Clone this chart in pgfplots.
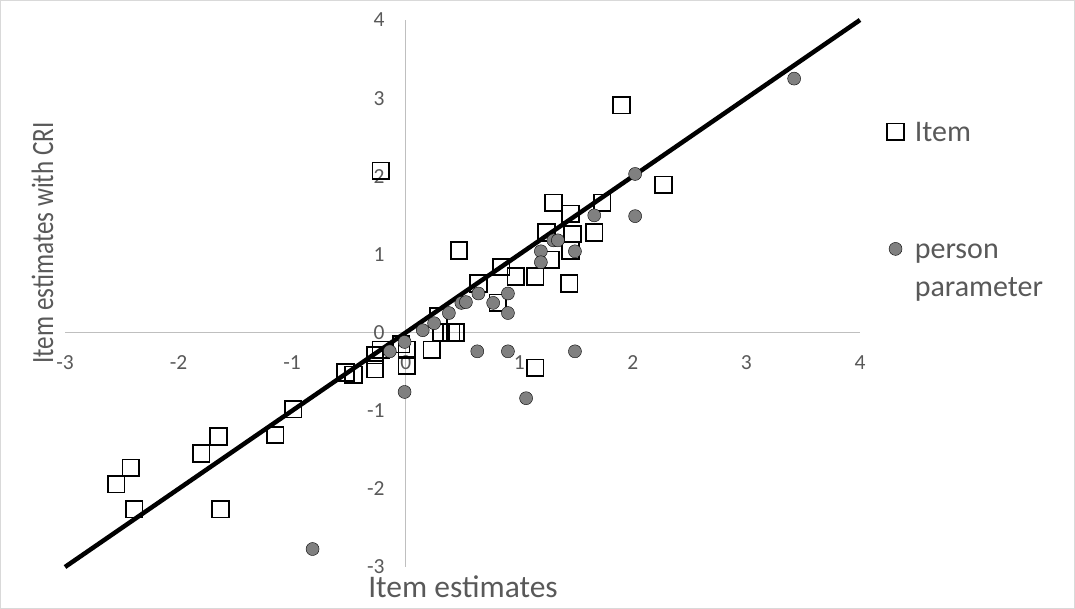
\documentclass[border=0pt]{standalone}
\usepackage{pgfplots}
\pgfplotsset{compat=1.18}
\usepackage{fontspec}
\setmainfont{Carlito}
\definecolor{tickgray}{HTML}{595959}
\definecolor{axisgray}{HTML}{BFBFBF}
\definecolor{bordergray}{HTML}{D9D9D9}
\definecolor{dotgray}{HTML}{808080}
\begin{document}
\begin{tikzpicture}
\path[use as bounding box] (0,0) rectangle (1075bp,609bp);
\begin{axis}[
  at={(65bp,42bp)}, anchor=south west,
  scale only axis, width=795bp, height=547bp,
  xmin=-3, xmax=4, ymin=-3, ymax=4,
  axis lines=middle,
  hide obscured x ticks=false, hide obscured y ticks=false,
  axis line style={-, draw=axisgray, line width=1.3bp},
  xtick={-3,-2,-1,0,1,2,3,4}, ytick={-3,-2,-1,0,1,2,3,4},
  xticklabels={-3,-2,-1,0,1,2,3,4},
  yticklabels={-3,-2,-1,0,1,2,3,4},
  major tick length=0pt,
  tick style={draw=none},
  ticklabel style={font=\fontsize{21.5bp}{21.5bp}\selectfont, text=tickgray, inner sep=0pt},
  xticklabel style={anchor=north, yshift=-23bp},
  yticklabel style={anchor=east, xshift=-21bp},
  clip=false,
  legend style={draw=none, fill=none, inner sep=0pt,
    at={(axis description cs:1.034,0.8165)}, anchor=north west,
    font=\fontsize{30bp}{38bp}\selectfont, text=tickgray,
    row sep=85bp, column sep=9bp, cells={anchor=base west}},
  legend image code/.code={\draw[mark repeat=2,mark phase=2,#1] plot coordinates {(0bp,10bp)(10bp,10bp)(20bp,10bp)};},
]
\addplot[only marks, mark=square, mark size=8.3bp, mark options={draw=black, line width=1.8bp, fill=none}] coordinates {
(-0.22,2.07) (0.47,1.05) (1.30,1.66) (1.45,1.52) (1.73,1.66)
(1.24,1.28) (1.47,1.26) (1.66,1.28) (1.45,1.05) (1.28,0.93)
(0.84,0.84) (0.97,0.72) (1.14,0.72) (0.64,0.63) (1.44,0.63)
(0.81,0.38) (0.29,0.21) (0.31,0.00) (0.40,0.00) (0.44,0.00)
(0.23,-0.22) (1.14,-0.45) (0.01,-0.42) (0.01,-0.22) (-0.04,-0.15)
(-0.22,-0.22) (-0.27,-0.29) (-0.27,-0.47) (-0.53,-0.51) (-0.46,-0.54)
(-0.99,-0.98) (-1.15,-1.31) (-1.65,-1.33) (-1.80,-1.55) (-2.42,-1.73)
(-2.55,-1.94) (-2.39,-2.26) (-1.63,-2.26) (1.90,2.91) (2.27,1.89)
};
\addlegendentry{Item}
\addplot[black, line width=4.5bp, no marks, forget plot] coordinates {(-3,-3) (4,4)};
\addplot[only marks, mark=*, mark size=6.5bp, mark options={draw=none, fill=dotgray}] coordinates {
(3.42,3.25) (2.02,2.03) (2.02,1.49) (1.66,1.50) (1.30,1.18)
(1.34,1.18) (1.19,1.04) (1.19,0.90) (1.49,1.04) (0.64,0.50)
(0.90,0.50) (0.49,0.38) (0.53,0.39) (0.77,0.38) (0.90,0.25)
(0.38,0.25) (0.25,0.12) (0.15,0.03) (-0.01,-0.12) (-0.14,-0.24)
(0.63,-0.24) (0.90,-0.24) (1.49,-0.24) (-0.01,-0.76) (1.06,-0.84)
(-0.82,-2.77)
};
\addlegendentry{\begin{tabular}[t]{@{}l@{}}person\\parameter\end{tabular}}
\end{axis}
\node[anchor=base, font=\fontsize{31.5bp}{31.5bp}\selectfont, text=tickgray, inner sep=0pt] at (463bp,12bp) {Item estimates};
\node[anchor=base, rotate=90, font=\fontsize{31bp}{31bp}\selectfont, text=tickgray, inner sep=0pt] at (53bp,366bp) {\scalebox{0.81}[1]{Item estimates with CRI}};
\draw[bordergray, line width=1bp] (0.5bp,0.5bp) rectangle (1074.5bp,608.5bp);
\end{tikzpicture}
\end{document}
